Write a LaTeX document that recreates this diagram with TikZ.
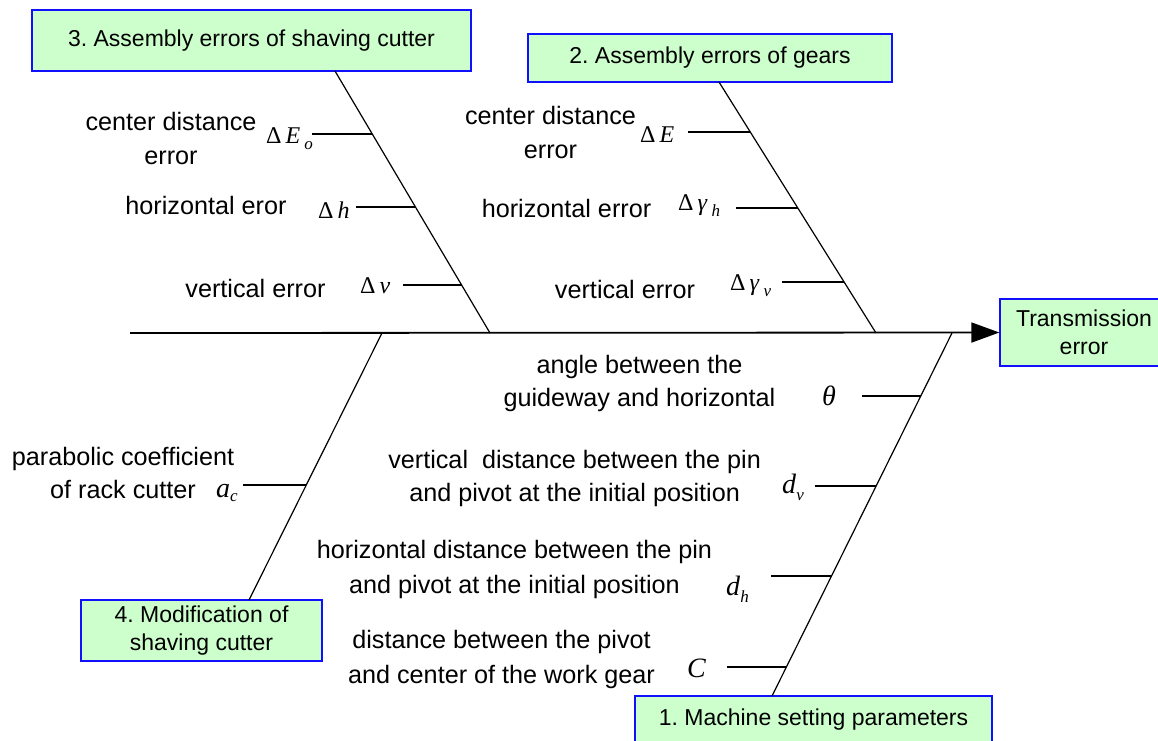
\documentclass[tikz,border=0pt]{standalone}
\usepackage{fontspec}
\setmainfont{Liberation Sans}
\newfontfamily\symf{Liberation Serif}
\usetikzlibrary{arrows.meta}
\definecolor{boxfill}{HTML}{CCFFCC}
\definecolor{boxline}{HTML}{1010FF}
\newcommand{\sbs}[2][6pt]{\raisebox{-#1}{\fontsize{17}{17}\selectfont\itshape #2}}
\frenchspacing
\begin{document}
\begin{tikzpicture}[x=1pt,y=-1pt,
  box/.style={draw=boxline, line width=1.3pt, fill=boxfill, inner sep=0pt,
    font=\fontsize{23}{28}\selectfont, align=center},
  lbl/.style={font=\fontsize{25.2}{34}\selectfont, align=center, inner sep=0pt},
  sym/.style={font=\symf\fontsize{24}{28}\selectfont, inner sep=0pt, anchor=base west},
  symbig/.style={font=\symf\fontsize{28}{30}\selectfont, inner sep=0pt, anchor=base west},
  bone/.style={line width=1.2pt},
  tick/.style={line width=1.2pt},
  spine/.style={line width=1.8pt}]
\useasboundingbox (0,0) rectangle (1158,740);

% boxes
\node[box, minimum width=439pt, minimum height=61pt] (B3) at (251.5,40.5) {3. Assembly errors of shaving cutter};
\node[box, minimum width=364pt, minimum height=48pt] (B2) at (710,58) {2. Assembly errors of gears};
\node[box, minimum width=168pt, minimum height=67pt] (T) at (1084,332.5) {Transmission\\error};
\node[box, minimum width=241pt, minimum height=61pt] (B4) at (201.5,630.5) {4. Modification of\\shaving cutter};
\node[box, minimum width=357pt, minimum height=48pt] (B1) at (813.5,720) {1. Machine setting parameters};

% spine
\coordinate (S0) at (130,333);
\draw[spine, -{Triangle[length=28pt,width=20pt]}] (S0) -- (T.west);

% bones
\coordinate (b3a) at (335,71);  \coordinate (b3b) at (490,333);
\coordinate (b2a) at (719,82);  \coordinate (b2b) at (876,333);
\coordinate (b4a) at (382,333); \coordinate (b4b) at (249,600);
\coordinate (b1a) at (952,333); \coordinate (b1b) at (772,696);
\draw[bone] (b3a) -- (b3b);
\draw[bone] (b2a) -- (b2b);
\draw[bone] (b4a) -- (b4b);
\draw[bone] (b1a) -- (b1b);

% ticks branch 3
\coordinate (t31) at (312,134); \coordinate (e31) at (372,134);
\coordinate (t32) at (356,207); \coordinate (e32) at (415,207);
\coordinate (t33) at (403,285); \coordinate (e33) at (461.5,285);
% ticks branch 2
\coordinate (t21) at (688,132); \coordinate (e21) at (750.3,132);
\coordinate (t22) at (736,208); \coordinate (e22) at (797.8,208);
\coordinate (t23) at (782,282); \coordinate (e23) at (844,282);
% tick branch 4
\coordinate (t41) at (243,485); \coordinate (e41) at (306,485);
% ticks branch 1
\coordinate (t11) at (862,396); \coordinate (e11) at (921,396);
\coordinate (t12) at (815,486); \coordinate (e12) at (876,486);
\coordinate (t13) at (771,576); \coordinate (e13) at (831.5,576);
\coordinate (t14) at (727,667); \coordinate (e14) at (786,667);
\foreach \a/\b in {t31/e31,t32/e32,t33/e33,t21/e21,t22/e22,t23/e23,t41/e41,t11/e11,t12/e12,t13/e13,t14/e14}
  \draw[tick] (\a) -- (\b);

% labels branch 3
\node[lbl] (l31) at (171,138.5) {center distance\\error};
\node[lbl] (l32) at (206,205) {horizontal eror};
\node[lbl] (l33) at (255.5,288) {vertical error};
\node[sym] (s31) at (266,143) {Δ\,\textit{E}\,\sbs{o}};
\node[sym] (s32) at (318,218) {Δ\,\textit{h}};
\node[sym] (s33) at (360,293) {Δ\,\textit{v}};

% labels branch 2
\node[lbl] (l21) at (550.5,132) {center distance\\error};
\node[lbl] (l22) at (566.5,208) {horizontal error};
\node[lbl] (l23) at (625,289) {vertical error};
\node[sym] (s21) at (640,142) {Δ\,\textit{E}};
\node[sym] (s22) at (678,210) {Δ\,\textit{γ}\,\sbs{h}};
\node[sym] (s23) at (730,290) {Δ\,\textit{γ}\,\sbs{v}};

% labels branch 4
\node[lbl, font=\fontsize{25.2}{33}\selectfont] (l41) at (123,473) {parabolic coefficient\\of rack cutter};
\node[symbig] (s41) at (216,497) {\textit{a}\sbs[4pt]{c}};

% labels branch 1
\node[lbl, font=\fontsize{25.2}{33}\selectfont] (l11) at (639.5,383.5) {angle between the\\guideway and horizontal};
\node[lbl, font=\fontsize{25.2}{33}\selectfont] (l12) at (574.6,478.5) {vertical\ \ distance between the pin\\and pivot at the initial position};
\node[lbl, font=\fontsize{25.2}{35}\selectfont] (l13) at (514.5,569.5) {horizontal distance between the pin\\and pivot at the initial position};
\node[lbl, font=\fontsize{25.2}{35}\selectfont] (l14) at (501.5,659.5) {distance between the pivot\\and center of the work gear};
\node[symbig] (s11) at (822,405) {\textit{θ}};
\node[symbig] (s12) at (782,493) {\textit{d}\sbs[7pt]{v}};
\node[symbig] (s13) at (726,595) {\textit{d}\sbs[7pt]{h}};
\node[symbig] (s14) at (687,677) {\textit{C}};
\end{tikzpicture}
\end{document}
